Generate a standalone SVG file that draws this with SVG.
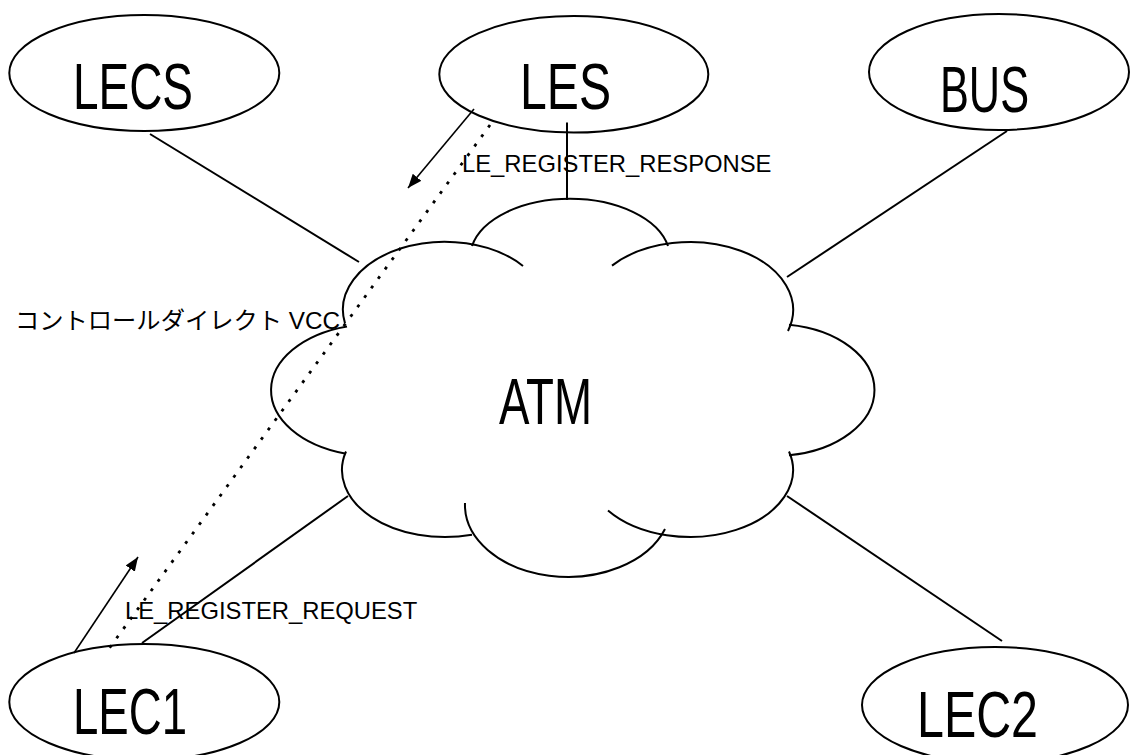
<svg xmlns="http://www.w3.org/2000/svg" width="1131" height="755" viewBox="0 0 1131 755">
<defs>
<style>
.node{fill:none;stroke:#000;stroke-width:2}
.big{font-family:"Liberation Sans",Arial,sans-serif;font-size:64px;fill:#000}
.small{font-family:"Liberation Sans",Arial,"Noto Sans CJK JP",sans-serif;font-size:23.8px;fill:#000}
.conn{stroke:#000;stroke-width:2;fill:none}
.arrow{stroke:#000;stroke-width:1.6;fill:none;marker-end:url(#ah)}
.dots{stroke:#000;stroke-width:2.8;fill:none;stroke-dasharray:3 8.7}
.cloud path{fill:none;stroke:#000;stroke-width:2}
</style>
<marker id="ah" viewBox="0 0 14 11" refX="14" refY="5.5" markerWidth="14" markerHeight="11" markerUnits="userSpaceOnUse" orient="auto">
<path d="M0,0 L14,5.5 L0,11 z" fill="#000"/>
</marker>
</defs>
<rect width="1131" height="755" fill="#fff"/>

<g id="node-LECS">
<ellipse class="node" cx="144.3" cy="73" rx="135" ry="58"/>
<text class="big" x="73" y="109" textLength="120" lengthAdjust="spacingAndGlyphs">LECS</text>
</g>
<g id="node-LES">
<ellipse class="node" cx="573.8" cy="74.3" rx="134.5" ry="58.3"/>
<text class="big" x="520" y="109" textLength="91" lengthAdjust="spacingAndGlyphs">LES</text>
</g>
<g id="node-BUS">
<ellipse class="node" cx="999" cy="72" rx="130" ry="58"/>
<text class="big" x="940" y="112" textLength="89" lengthAdjust="spacingAndGlyphs">BUS</text>
</g>
<g id="node-LEC1">
<ellipse class="node" cx="144.3" cy="702" rx="135" ry="58"/>
<text class="big" x="73" y="734" textLength="114" lengthAdjust="spacingAndGlyphs">LEC1</text>
</g>
<g id="node-LEC2">
<ellipse class="node" cx="995" cy="705" rx="133" ry="58"/>
<text class="big" x="917" y="737" textLength="121" lengthAdjust="spacingAndGlyphs">LEC2</text>
</g>
<g id="node-ATM" class="cloud">
<path d="M345 323.4 A102 68 0 0 1 523 266"/>
<path d="M472 246 A100 59 0 0 1 668 246"/>
<path d="M612 265.6 A103 68 0 0 1 788 331"/>
<path d="M789 324.7 A100 66 0 0 1 789 455.3"/>
<path d="M789 451.5 A103 67 0 0 1 608 510.5"/>
<path d="M465 503 A103 72 0 0 0 665 529"/>
<path d="M346 451.5 A103 67 0 0 0 472 534.7"/>
<path d="M347 326.5 A103 66 0 0 0 345 453.5"/>
<text class="big" x="499" y="424" textLength="93" lengthAdjust="spacingAndGlyphs">ATM</text>
</g>

<g id="connectors">
<line class="conn" x1="150" y1="134" x2="359" y2="262"/>
<line class="conn" x1="567" y1="122.5" x2="567" y2="200"/>
<line class="conn" x1="1007" y1="131" x2="787" y2="277"/>
<line class="conn" x1="142" y1="643" x2="348" y2="496"/>
<line class="conn" x1="787" y1="496" x2="1002" y2="641"/>
<line class="dots" x1="490" y1="125" x2="108" y2="650"/>
<line class="arrow" x1="474" y1="109" x2="408" y2="188"/>
<line class="arrow" x1="74" y1="653" x2="138" y2="557"/>
</g>

<g id="labels">
<text class="small" x="462" y="172">LE_REGISTER_RESPONSE</text>
<text class="small" x="125" y="619">LE_REGISTER_REQUEST</text>
<text class="small" x="15" y="329" font-size="24" textLength="325" lengthAdjust="spacingAndGlyphs">コントロールダイレクト VCC</text>
</g>
</svg>
